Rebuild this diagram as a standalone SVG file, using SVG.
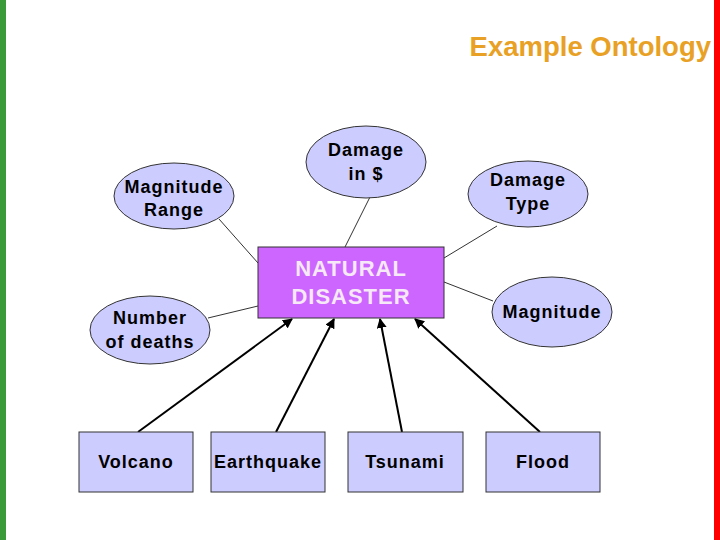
<svg xmlns="http://www.w3.org/2000/svg" width="720" height="540" viewBox="0 0 720 540">
<defs>
<style>
.el{fill:#CCCCFF;stroke:#333;stroke-width:1}
.bx{fill:#CCCCFF;stroke:#333;stroke-width:1}
.lbl{font-family:"Liberation Sans",Arial,sans-serif;font-size:18px;font-weight:bold;fill:#000;text-anchor:middle;letter-spacing:1px}
.nd{font-family:"Liberation Sans",Arial,sans-serif;font-size:22px;font-weight:bold;fill:#F6E8F6;text-anchor:middle;letter-spacing:1px}
.ln{stroke:#333;stroke-width:1;fill:none}
.ar{stroke:#000;stroke-width:2;fill:none;marker-end:url(#ah)}
</style>
<marker id="ah" viewBox="0 0 10 10" refX="9" refY="5" markerWidth="5" markerHeight="5" orient="auto" markerUnits="strokeWidth">
<path d="M0,0 L10,5 L0,10 z" fill="#000"/>
</marker>
</defs>
<rect x="0" y="0" width="720" height="540" fill="#fff"/>
<rect x="0" y="0" width="6" height="540" fill="#3A9A3A"/>
<rect x="714" y="0" width="6" height="540" fill="#FF0000"/>
<text x="711" y="56" font-family="Liberation Sans,Arial,sans-serif" font-size="27.5" font-weight="bold" fill="#E9A125" text-anchor="end">Example Ontology</text>

<g id="connectors">
<line class="ln" x1="219" y1="219" x2="258" y2="263"/>
<line class="ln" x1="370" y1="197" x2="345" y2="247"/>
<line class="ln" x1="497" y1="226" x2="444" y2="258"/>
<line class="ln" x1="493" y1="301" x2="444" y2="282"/>
<line class="ln" x1="208" y1="318" x2="258" y2="306"/>
<line class="ar" x1="138" y1="432" x2="292" y2="319"/>
<line class="ar" x1="276" y1="432" x2="334" y2="319"/>
<line class="ar" x1="402" y1="432" x2="380" y2="319"/>
<line class="ar" x1="540" y1="432" x2="415" y2="319"/>
</g>

<g id="natural-disaster">
<rect x="258" y="247" width="186" height="71" fill="#CC66FF" stroke="#333" stroke-width="1"/>
<text class="nd" x="351" y="276">NATURAL</text>
<text class="nd" x="351" y="304">DISASTER</text>
</g>

<g id="magnitude-range">
<ellipse class="el" cx="174" cy="196" rx="60" ry="33"/>
<text class="lbl" x="174" y="193">Magnitude</text>
<text class="lbl" x="174" y="216">Range</text>
</g>
<g id="damage-in-dollars">
<ellipse class="el" cx="366" cy="162" rx="60" ry="36"/>
<text class="lbl" x="366" y="156">Damage</text>
<text class="lbl" x="366" y="180">in $</text>
</g>
<g id="damage-type">
<ellipse class="el" cx="528" cy="194" rx="60" ry="33"/>
<text class="lbl" x="528" y="186">Damage</text>
<text class="lbl" x="528" y="210">Type</text>
</g>
<g id="magnitude">
<ellipse class="el" cx="552" cy="312" rx="60" ry="35"/>
<text class="lbl" x="552" y="318">Magnitude</text>
</g>
<g id="number-of-deaths">
<ellipse class="el" cx="150" cy="330" rx="60" ry="34"/>
<text class="lbl" x="150" y="324">Number</text>
<text class="lbl" x="150" y="348">of deaths</text>
</g>

<g id="volcano">
<rect class="bx" x="79" y="432" width="114" height="60"/>
<text class="lbl" x="136" y="468">Volcano</text>
</g>
<g id="earthquake">
<rect class="bx" x="211" y="432" width="114" height="60"/>
<text class="lbl" x="268" y="468">Earthquake</text>
</g>
<g id="tsunami">
<rect class="bx" x="348" y="432" width="115" height="60"/>
<text class="lbl" x="405" y="468">Tsunami</text>
</g>
<g id="flood">
<rect class="bx" x="486" y="432" width="114" height="60"/>
<text class="lbl" x="543" y="468">Flood</text>
</g>
</svg>
